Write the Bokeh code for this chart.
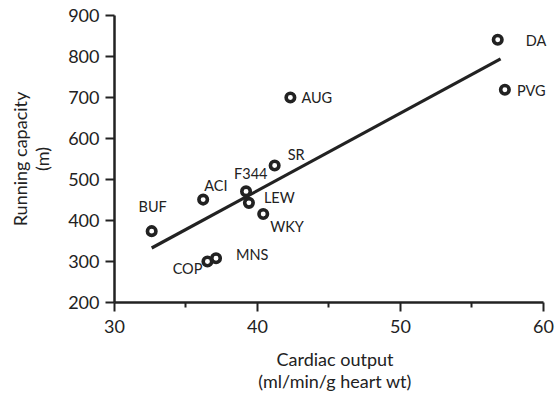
from bokeh.plotting import figure
from bokeh.models import Range1d, ColumnDataSource, FixedTicker, LabelSet
from bokeh.core.properties import value
from bokeh.embed import file_html
from bokeh.resources import INLINE

# ---- data ----
strains = ["ACI", "AUG", "BUF", "COP", "DA", "F344", "LEW", "MNS", "PVG", "SR", "WKY"]
cardiac_output = [36.2, 42.3, 32.6, 36.5, 56.8, 39.2, 39.4, 37.1, 57.3, 41.2, 40.4]
running_capacity = [451, 700, 374, 300, 841, 471, 443, 308, 719, 534, 416]
fit_x = [32.6, 57.0]
fit_y = [333, 794]
x_ticks = [30, 40, 50, 60]
x_minor = [35, 45, 55]
y_ticks = [200, 300, 400, 500, 600, 700, 800, 900]
x_title = "Cardiac output\n(ml/min/g heart wt)"
y_title = "Running capacity\n(m)"

# ---- label layout (screen offsets, y positive = up) ----
label_align = ["left", "left", "center", "right", "left", "left", "left", "left", "left", "left", "left"]
label_dx = [1, 11, 1, -5, 28, -12, 15, 20, 12, 13, 7]
label_dy = [14, 0, 25, -7, -1, 18, 5, 4, -1, 11, -13]

FONT = "Lato"
INK = "#222222"

src = ColumnDataSource(dict(x=cardiac_output, y=running_capacity, name=strains,
                            align=label_align, dx=label_dx, dy=label_dy))

# frame extends a little past x=60 so the right-hand labels are not clipped;
# the axis line itself stops at 60 via bounds
p = figure(width=556, height=395, x_range=Range1d(30, 60.84), y_range=Range1d(200, 900),
           output_backend="svg", toolbar_location=None,
           min_border_left=114, min_border_right=1, min_border_top=15, min_border_bottom=93)
p.outline_line_color = None
p.xgrid.grid_line_color = None
p.ygrid.grid_line_color = None
p.background_fill_color = "white"
p.border_fill_color = "white"

p.line(fit_x, fit_y, line_color=INK, line_width=3.2)
p.scatter("x", "y", source=src, marker="circle", size=8.5, fill_color="white",
          line_color=INK, line_width=3.6)
labels = LabelSet(x="x", y="y", text="name", source=src, x_offset="dx", y_offset="dy",
                  text_align="align", text_baseline="middle",
                  text_font=value(FONT), text_font_size=value("14.5px"), text_color=INK)
p.add_layout(labels)

for ax in (p.xaxis[0], p.yaxis[0]):
    ax.axis_line_color = INK
    ax.axis_line_width = 2.5
    ax.major_tick_line_color = INK
    ax.major_tick_line_width = 2
    ax.major_tick_out = 9
    ax.major_tick_in = 0
    ax.minor_tick_line_color = INK
    ax.minor_tick_line_width = 2
    ax.minor_tick_out = 5
    ax.minor_tick_in = 0
    ax.major_label_text_font = FONT
    ax.major_label_text_font_size = "18px"
    ax.major_label_text_color = INK
    ax.axis_label_text_font = FONT
    ax.axis_label_text_font_size = "18px"
    ax.axis_label_text_font_style = "normal"
    ax.axis_label_text_color = INK
    ax.axis_label_text_line_height = 1.0

p.xaxis.bounds = (30, 60)
p.xaxis.ticker = FixedTicker(ticks=x_ticks, minor_ticks=x_minor)
p.yaxis.ticker = FixedTicker(ticks=y_ticks, minor_ticks=[])
p.xaxis.axis_label = x_title
p.yaxis.axis_label = y_title
p.xaxis.major_label_standoff = 8
p.yaxis.major_label_standoff = 6
p.xaxis.axis_label_standoff = 12
p.yaxis.axis_label_standoff = 12

open("out.html", "w").write(file_html(p, INLINE))
